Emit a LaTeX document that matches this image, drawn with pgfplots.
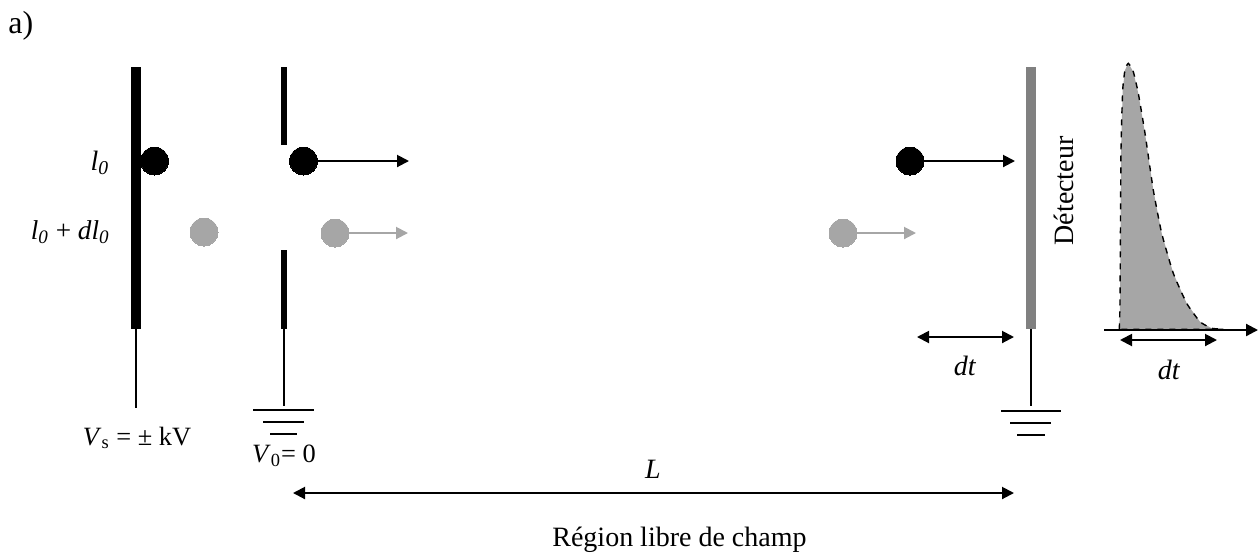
\documentclass[border=0pt]{standalone}
\usepackage{pgfplots}
\usepackage{fontspec}
\setmainfont{Liberation Serif}
\pgfplotsset{compat=1.18}
\usetikzlibrary{arrows.meta}
\definecolor{dotgrey}{HTML}{A6A6A6}
\definecolor{detgrey}{HTML}{808080}
\pgfplotsset{
  plate/.style={no markers,line cap=butt},
  wire/.style={no markers,black,line width=0.7pt},
  gnd/.style={no markers,black,line width=0.8pt},
  dart/.style={no markers,line width=1pt,-{Triangle[length=6pt,width=6pt]}},
  ddart/.style={no markers,black,line width=1pt,{Triangle[length=6pt,width=6pt]}-{Triangle[length=6pt,width=6pt]}},
  dot/.style={only marks,mark=*,mark size=7pt,mark options={draw=#1,fill=#1,line width=0pt}},
}
\tikzset{lab/.style={font=\fontsize{14}{16}\selectfont,inner sep=0pt}}
\begin{document}
\begin{tikzpicture}
\useasboundingbox (0,0) rectangle (629.5pt,277pt);
\begin{axis}[
  anchor=south west,at={(0,0)},
  scale only axis,width=629.5pt,height=277pt,
  xmin=0,xmax=1259,ymin=0,ymax=554,y dir=reverse,
  axis lines=none,clip=false]

% source plate and grid
\addplot[plate,black,line width=5.2pt] coordinates {(136,67) (136,329)};
\addplot[plate,black,line width=2.6pt] coordinates {(284,67) (284,145)};
\addplot[plate,black,line width=2.6pt] coordinates {(284,250) (284,329)};
\addplot[plate,detgrey,line width=5.2pt] coordinates {(1031,67) (1031,329)};

% wires
\addplot[wire] coordinates {(136,329) (136,408)};
\addplot[wire] coordinates {(284,329) (284,406)};
\addplot[wire] coordinates {(1031,329) (1031,406)};

% grounds
\addplot[gnd] coordinates {(253,410) (314,410)};
\addplot[gnd] coordinates {(263,422) (304,422)};
\addplot[gnd] coordinates {(270,434) (297,434)};
\addplot[gnd] coordinates {(1001,411) (1061,411)};
\addplot[gnd] coordinates {(1010,423) (1051,423)};
\addplot[gnd] coordinates {(1017,435) (1045,435)};

% pulse
\addplot[fill=dotgrey,draw=none,no markers] coordinates {
(1119.3,329.3) (1120,300) (1121,150) (1122.7,90) (1125,70) (1128.3,63.3) (1133.3,71.7)
(1138.3,93.3) (1145,133.3) (1153.3,190) (1161.7,233.3) (1173.3,273.3) (1186.7,303.3)
(1200,321.7) (1211.7,328.3) (1221.7,329.3)} --cycle;
\addplot[black,dashed,line width=0.7pt,no markers,smooth,tension=0.3] coordinates {
(1119.3,329.3) (1120,300) (1121,150) (1122.7,90) (1125,70) (1128.3,63.3) (1133.3,71.7)
(1138.3,93.3) (1145,133.3) (1153.3,190) (1161.7,233.3) (1173.3,273.3) (1186.7,303.3)
(1200,321.7) (1211.7,328.3) (1221.7,329.3) (1119.3,329.3)};
\addplot[dart,black,line width=1.1pt] coordinates {(1104,330) (1258,330)};

% arrows
\addplot[dart,black] coordinates {(317,161) (409,161)};
\addplot[dart,dotgrey] coordinates {(348,233) (408,233)};
\addplot[dart,dotgrey] coordinates {(856,233) (916,233)};
\addplot[dart,black] coordinates {(923,161) (1015,161)};
\addplot[ddart] coordinates {(917,337) (1014,337)};
\addplot[ddart] coordinates {(1120,340) (1217,340)};
\addplot[ddart] coordinates {(293,493) (1014,493)};

% ions
\addplot[dot=black] coordinates {(154.5,161) (303.5,161) (910,161)};
\addplot[dot=dotgrey] coordinates {(204,232) (335,233) (843,233)};

% labels
\node[lab,anchor=west,font=\fontsize{16}{18}\selectfont] at (axis cs:8,26) {a)};
\node[lab] at (axis cs:100,163) {\textit{l}\textsubscript{\textit{0}}};
\node[lab,anchor=east,font=\fontsize{13.6}{16}\selectfont] at (axis cs:110,232) {\textit{l}\textsubscript{\textit{0}} + \textit{dl}\textsubscript{\textit{0}}};
\node[lab,font=\fontsize{13.2}{16}\selectfont] at (axis cs:137,438) {\textit{V}\textsubscript{s} = ± kV};
\node[lab,font=\fontsize{13.2}{16}\selectfont] at (axis cs:284,456) {\textit{V}\textsubscript{0}= 0};
\node[lab] at (axis cs:653,469) {\textit{L}};
\node[lab] at (axis cs:679.5,540) {Région libre de champ};
\node[lab] at (axis cs:965,366) {\textit{dt}};
\node[lab] at (axis cs:1169,370) {\textit{dt}};
\node[lab,rotate=90] at (axis cs:1064,191) {Détecteur};
\end{axis}
\end{tikzpicture}
\end{document}
